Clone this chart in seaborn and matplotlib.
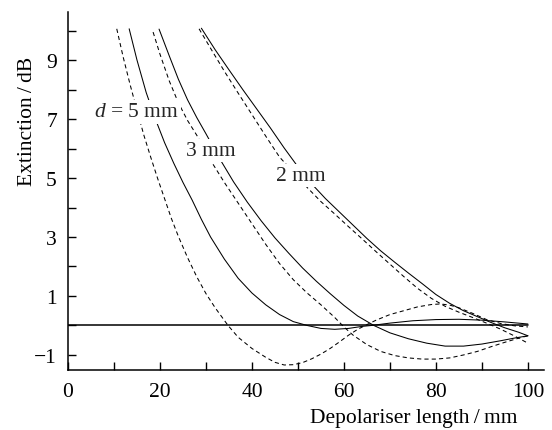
import matplotlib
matplotlib.use("Agg")
import matplotlib.pyplot as plt
import seaborn as sns
import pandas as pd

# ---- data ----
d5_dash_x = [10.6, 12, 13.5, 15, 16.5, 18, 19.5, 21, 22.5, 24, 26, 28, 30, 32, 34.8, 37, 40, 43, 45, 47, 49, 51,
             53, 55, 57, 59, 61, 63, 65, 67, 70, 73, 76, 79, 81, 83, 85, 88, 91, 94, 97, 100]
d5_dash_y = [10.06, 9.1, 8.17, 7.3, 6.45, 5.7, 4.98, 4.3, 3.62, 3.02, 2.3, 1.65, 1.08, 0.6, 0.0, -0.4, -0.78, -1.08,
             -1.25, -1.34, -1.33, -1.26, -1.13, -0.97, -0.78, -0.56, -0.33, -0.13, 0.03, 0.18, 0.37, 0.5, 0.63,
             0.71, 0.73, 0.69, 0.6, 0.41, 0.2, 0.07, -0.01, -0.05]

d5_solid_x = [13.3, 15, 17, 19, 21, 23, 25, 27, 29, 31, 34, 37, 40, 43, 46, 49, 52, 55, 58, 61, 64, 66, 70, 75,
              80, 85, 90, 95, 100]
d5_solid_y = [10.06, 9.0, 7.9, 7.0, 6.2, 5.5, 4.85, 4.25, 3.6, 3.0, 2.25, 1.6, 1.1, 0.7, 0.37, 0.13, 0.0, -0.1,
              -0.13, -0.1, -0.03, 0.0, 0.08, 0.16, 0.2, 0.21, 0.18, 0.12, 0.05]

d3_dash_x = [18.5, 20, 22, 24, 26, 28, 31, 34, 37, 40, 43, 46, 49, 52, 55, 58, 60, 62, 65, 68, 71, 74, 77, 80,
             83, 86, 89, 92, 95, 98, 100]
d3_dash_y = [9.95, 9.2, 8.3, 7.55, 6.95, 6.45, 5.6, 4.85, 4.15, 3.45, 2.75, 2.1, 1.55, 1.1, 0.7, 0.27, -0.05,
             -0.33, -0.65, -0.88, -1.02, -1.1, -1.14, -1.14, -1.1, -1.0, -0.88, -0.72, -0.57, -0.43, -0.35]

d3_solid_x = [19.8, 22, 24, 26, 28, 30, 33, 36, 39, 42, 45, 48, 51, 54, 57, 60, 63, 66.5, 70, 74, 78, 82, 86,
              90, 94, 97, 100]
d3_solid_y = [10.05, 9.15, 8.35, 7.65, 7.05, 6.5, 5.65, 4.87, 4.18, 3.55, 2.97, 2.45, 1.95, 1.5, 1.08, 0.68,
              0.32, 0.0, -0.25, -0.45, -0.6, -0.7, -0.7, -0.63, -0.52, -0.43, -0.35]

d2_dash_x = [28.5, 31, 34, 37, 40, 43, 46, 49, 52, 55, 58, 61, 64, 67, 70, 73, 76, 79, 82, 85, 88, 91, 94, 97, 100]
d2_dash_y = [10.06, 9.4, 8.62, 7.88, 7.15, 6.42, 5.71, 5.2, 4.68, 4.2, 3.78, 3.35, 2.93, 2.5, 2.08, 1.66, 1.26,
             0.92, 0.65, 0.45, 0.27, 0.08, -0.12, -0.35, -0.6]

d2_solid_x = [29, 32, 35, 38, 41, 44, 47, 50, 53, 56, 59, 62, 65, 68, 71, 74, 77, 80, 83, 86, 89, 92, 95, 98, 100]
d2_solid_y = [10.08, 9.35, 8.67, 8.0, 7.35, 6.7, 6.02, 5.38, 4.8, 4.3, 3.85, 3.4, 2.95, 2.53, 2.15, 1.78, 1.42,
              1.05, 0.75, 0.5, 0.3, 0.1, -0.08, -0.23, -0.35]

zero_x = [0, 100]
zero_y = [0, 0]

labels = ["$d$ = 5 mm", "3 mm", "2 mm"]
label_x = [14.9, 31.1, 50.6]
label_y = [7.24, 5.93, 5.08]

x_major = [0, 20, 40, 60, 80, 100]
x_minor = [10, 30, 50, 70, 90]
y_ticks = list(range(-1, 11))
y_ticklabels = [str(v).replace("-", "\u2212") if v % 2 else "" for v in y_ticks]

# ---- style ----
sns.set_theme(style="white")
plt.rcParams["font.family"] = ["Liberation Serif", "DejaVu Serif"]
plt.rcParams["mathtext.fontset"] = "custom"
plt.rcParams["mathtext.rm"] = "Liberation Serif"
plt.rcParams["mathtext.it"] = "Liberation Serif:italic"
FS = 15.5

fig = plt.figure(figsize=(5.52, 4.31), dpi=100)
ax = fig.add_axes([0.1232, 0.1399, 0.8623, 0.8306])

LW = 0.75
dash = (0, (4, 3))
curves = [
    (d5_dash_x, d5_dash_y, dash),
    (d5_solid_x, d5_solid_y, "-"),
    (d3_dash_x, d3_dash_y, dash),
    (d3_solid_x, d3_solid_y, "-"),
    (d2_dash_x, d2_dash_y, dash),
    (d2_solid_x, d2_solid_y, "-"),
]
for xs, ys, ls in curves:
    df = pd.DataFrame({"x": xs, "y": ys})
    sns.lineplot(data=df, x="x", y="y", ax=ax, color="black", linewidth=LW,
                 linestyle=ls, estimator=None, sort=False, zorder=2)

sns.lineplot(x=zero_x, y=zero_y, ax=ax, color="black", linewidth=1.1,
             estimator=None, sort=False, zorder=2)

for t, tx, ty in zip(labels, label_x, label_y):
    ax.text(tx, ty, t, fontsize=FS, ha="center", va="center", zorder=5,
            bbox=dict(facecolor="white", edgecolor="none", pad=1.5))

ax.set_xlim(0, 103.5)
ax.set_ylim(-1.5, 10.64)

ax.set_xticks(x_major)
ax.set_xticks(x_minor, minor=True)
ax.set_yticks(y_ticks)
ax.set_yticklabels(y_ticklabels)

ax.tick_params(axis="both", which="both", direction="in", length=6, width=1.0,
               colors="black", labelsize=FS)
ax.tick_params(axis="x", which="both", pad=9, bottom=True)
ax.tick_params(axis="y", which="both", pad=8, left=True)

for s in ["top", "right"]:
    ax.spines[s].set_visible(False)
for s in ["left", "bottom"]:
    ax.spines[s].set_color("black")
    ax.spines[s].set_linewidth(1.1)

ax.set_xlabel("Depolariser length\u2009/\u2009mm", fontsize=FS, color="black")
ax.set_ylabel("Extinction\u2009/\u2009dB", fontsize=FS, color="black")
ax.xaxis.set_label_coords(0.727, -0.108)
ax.yaxis.set_label_coords(-0.065, 0.695)

fig.savefig("out.png", dpi=100)
